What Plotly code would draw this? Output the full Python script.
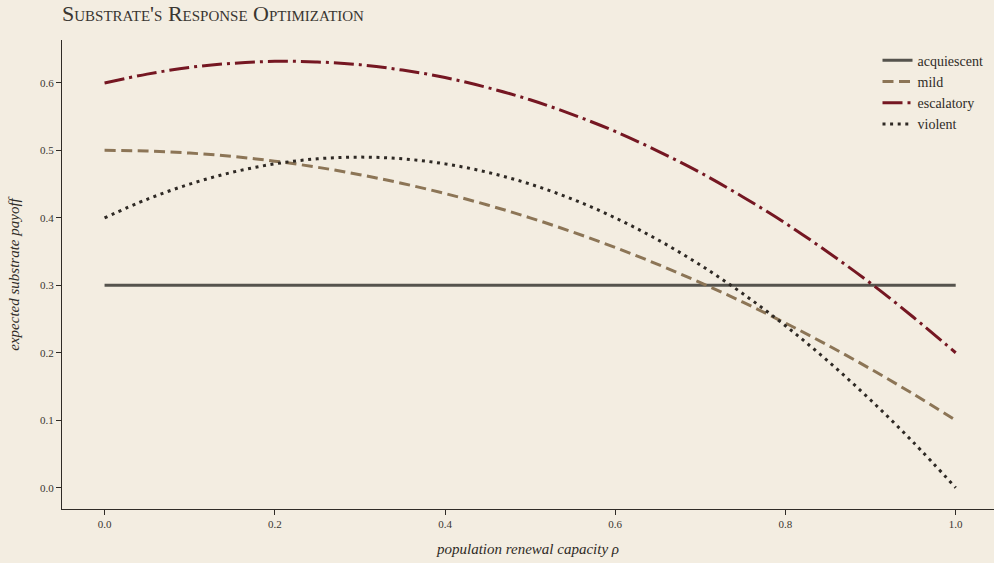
import plotly.graph_objects as go

# population renewal capacity rho
rho = [0.00, 0.05, 0.10, 0.15, 0.20, 0.25, 0.30, 0.35, 0.40, 0.45, 0.50,
       0.55, 0.60, 0.65, 0.70, 0.75, 0.80, 0.85, 0.90, 0.95, 1.00]

# expected substrate payoff per response type
acquiescent = [0.30] * 21
mild = [0.500, 0.499, 0.496, 0.491, 0.484, 0.475, 0.464, 0.451, 0.436, 0.419, 0.400,
        0.379, 0.356, 0.331, 0.304, 0.275, 0.244, 0.211, 0.176, 0.139, 0.100]
escalatory = [0.600, 0.613, 0.623, 0.629, 0.632, 0.631, 0.627, 0.619, 0.608, 0.593, 0.575,
              0.553, 0.528, 0.499, 0.467, 0.431, 0.392, 0.349, 0.303, 0.253, 0.200]
violent = [0.400, 0.4275, 0.450, 0.4675, 0.480, 0.4875, 0.490, 0.4875, 0.480, 0.4675, 0.450,
           0.4275, 0.400, 0.3675, 0.330, 0.2875, 0.240, 0.1875, 0.130, 0.0675, 0.000]

x_ticks = [0.0, 0.2, 0.4, 0.6, 0.8, 1.0]
y_ticks = [0.0, 0.1, 0.2, 0.3, 0.4, 0.5, 0.6]

BG = "#F3EDE1"
INK = "#2f2b26"
FONT = "Liberation Serif"

series = [
    ("acquiescent", acquiescent, "#55534d", "solid"),
    ("mild", mild, "#8c7556", "11px,5.5px"),
    ("escalatory", escalatory, "#751722", "20px,5px,3px,5px"),
    ("violent", violent, "#2e2924", "3px,4.6px"),
]

fig = go.Figure()
for name, vals, color, dash in series:
    fig.add_trace(go.Scatter(
        x=rho, y=vals, name=name, mode="lines",
        line=dict(color=color, width=3, dash=dash, shape="spline"),
    ))

axis_common = dict(
    showgrid=False, zeroline=False, showline=True, linecolor=INK, linewidth=1.3,
    ticks="outside", ticklen=5, tickwidth=1.2, tickcolor=INK,
    tickfont=dict(family=FONT, size=11, color="#3a3631"),
    tickformat=".1f",
)

fig.update_layout(
    width=994, height=563,
    paper_bgcolor=BG, plot_bgcolor=BG,
    margin=dict(l=62, r=0, t=40, b=54),
    font=dict(family=FONT, color=INK),
    title=dict(
        text="Substrate's Response Optimization",
        x=62 / 994, xanchor="left", y=1 - 13 / 563, yanchor="middle",
        font=dict(family=FONT, size=22, color="#3a3631", variant="small-caps"),
    ),
    xaxis=dict(
        range=[-0.05, 1.045], tickvals=x_ticks,
        title=dict(text="population renewal capacity ρ", standoff=14,
                   font=dict(family=FONT, size=15, color=INK, style="italic")),
        **axis_common,
    ),
    yaxis=dict(
        range=[-0.0316, 0.6636], tickvals=y_ticks,
        title=dict(text="expected substrate payoff", standoff=16,
                   font=dict(family=FONT, size=15, color=INK, style="italic")),
        **axis_common,
    ),
    legend=dict(
        x=0.875, y=0.99, xanchor="left", yanchor="top",
        bgcolor="rgba(0,0,0,0)", borderwidth=0,
        font=dict(family=FONT, size=14, color=INK),
        tracegroupgap=0, itemwidth=30,
    ),
    showlegend=True,
)

fig.write_html("out.html")
